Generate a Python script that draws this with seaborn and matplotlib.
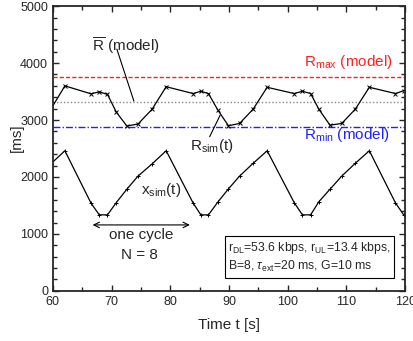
import numpy as np
import pandas as pd
import seaborn as sns
import matplotlib
matplotlib.use('Agg')
import matplotlib.pyplot as plt
from matplotlib.ticker import MultipleLocator

# values
t = [59.65, 62.05, 66.5, 67.9, 69.3, 70.8, 72.6, 74.5, 76.9, 79.3,
     83.9, 85.2, 86.5, 88.1, 89.9, 91.8, 94.1, 96.5,
     101.1, 102.5, 103.9, 105.3, 107.2, 109.2, 111.5, 113.9,
     118.35, 119.75, 121.15]
R_sim = [3190, 3600, 3460, 3495, 3450, 3140, 2895, 2930, 3190, 3585,
         3465, 3505, 3465, 3175, 2900, 2940, 3190, 3575,
         3465, 3505, 3465, 3190, 2910, 2940, 3190, 3575,
         3465, 3515, 3460]
x_sim = [2230, 2460, 1540, 1335, 1335, 1550, 1785, 2015, 2230, 2460,
         1540, 1335, 1335, 1560, 1790, 2015, 2240, 2460,
         1550, 1335, 1335, 1565, 1785, 2015, 2240, 2460,
         1545, 1335, 1335]
R_max = 3760
R_bar = 3310
R_min = 2880

df = pd.DataFrame({'t': t, 'R': R_sim, 'x': x_sim})

sns.set_style('ticks')
plt.rcParams['font.family'] = ['Liberation Sans', 'DejaVu Sans']
plt.rcParams['mathtext.fontset'] = 'custom'
plt.rcParams['mathtext.rm'] = 'Liberation Sans'
plt.rcParams['mathtext.it'] = 'Liberation Sans:italic'

fig = plt.figure(figsize=(4.13, 3.41), dpi=100)
ax = fig.add_axes([0.128, 0.147, 0.853, 0.835])

ax.axhline(R_max, color='#ff2020', ls=(0, (3, 1.5)), lw=1.0)
ax.axhline(R_bar, color='#888888', ls=(0, (1, 1.5)), lw=1.0)
ax.axhline(R_min, color='#2020ff', ls=(0, (5, 1.5, 1, 1.5)), lw=1.0)

sns.lineplot(data=df, x='t', y='R', ax=ax, color='black', lw=0.9,
             marker='x', markersize=3, markeredgewidth=0.7, markeredgecolor='black')
sns.lineplot(data=df, x='t', y='x', ax=ax, color='black', lw=0.9,
             marker='+', markersize=3.5, markeredgewidth=0.7, markeredgecolor='black')

ax.set_xlim(60, 120)
ax.set_ylim(0, 5000)
ax.xaxis.set_major_locator(MultipleLocator(10))
ax.xaxis.set_minor_locator(MultipleLocator(5))
ax.yaxis.set_major_locator(MultipleLocator(1000))
ax.yaxis.set_minor_locator(MultipleLocator(200))
ax.tick_params(which='both', direction='in', top=True, right=True, labelsize=9, width=1)
ax.tick_params(which='major', length=4.5)
ax.tick_params(which='minor', length=3)
for s in ax.spines.values():
    s.set_linewidth(1.3)
ax.set_xlabel('Time t [s]', fontsize=11)
ax.set_ylabel('[ms]', fontsize=11)
ax.xaxis.set_label_coords(0.5, -0.095)
ax.yaxis.set_label_coords(-0.082, 0.537)

fs = 11
ax.text(72.5, 4315, r'$\overline{\rm R}$ (model)', fontsize=fs, ha='center', va='center')
ax.plot([70.9, 73.8], [4245, 3333], color='black', lw=0.8)
ax.text(110.3, 4017, r'R$_{\rm max}$ (model)', fontsize=fs, ha='center', va='center', color='#ff2020')
ax.text(110.0, 2736, r'R$_{\rm min}$ (model)', fontsize=fs, ha='center', va='center', color='#2020ff')
ax.text(87.0, 2543, r'R$_{\rm sim}$(t)', fontsize=fs, ha='center', va='center')
ax.plot([86.7, 88.5], [2707, 3087], color='black', lw=0.8)
ax.text(78.5, 1771, r'x$_{\rm sim}$(t)', fontsize=fs, ha='center', va='center')

ax.annotate('', xy=(66.3, 1158), xytext=(83.8, 1158),
            arrowprops=dict(arrowstyle='<->', color='black', lw=0.8))
ax.text(75.0, 982, 'one cycle', fontsize=fs, ha='center', va='center')
ax.text(74.8, 631, 'N = 8', fontsize=fs, ha='center', va='center')

ax.text(89.86, 588,
        r'r$_{\rm DL}$=53.6 kbps, r$_{\rm UL}$=13.4 kbps,' + '\n' + r'B=8, $\tau_{\rm ext}$=20 ms, G=10 ms',
        fontsize=8.8, ha='left', va='center', linespacing=1.25,
        bbox=dict(boxstyle='square,pad=0.3', fc='white', ec='black', lw=0.8))

fig.savefig('out.png', dpi=100)
